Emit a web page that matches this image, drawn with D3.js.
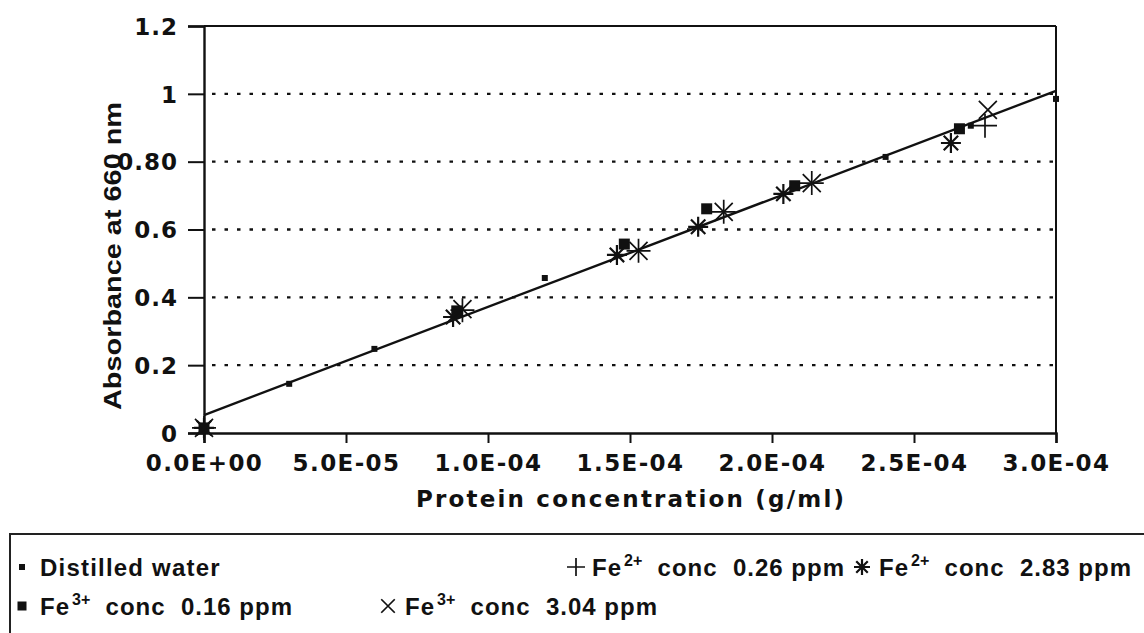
<!DOCTYPE html>
<html><head><meta charset="utf-8">
<script src="https://cdn.jsdelivr.net/npm/d3@7"></script>
<style>
html,body{margin:0;padding:0;background:#fff;}
svg{display:block;}
</style></head>
<body>
<svg id="c" width="1144" height="633"></svg>
<script>
// ---- data ----
const xTicks = [0, 5e-5, 1e-4, 1.5e-4, 2e-4, 2.5e-4, 3e-4];
const xTickLabels = ["0.0E+00","5.0E-05","1.0E-04","1.5E-04","2.0E-04","2.5E-04","3.0E-04"];
const yTicks = [0, 0.2, 0.4, 0.6, 0.8, 1, 1.2];
const yTickLabels = ["0","0.2","0.4","0.6","0.80","1","1.2"];

const distilledX = [0, 3.0e-5, 6.0e-5, 1.2e-4, 2.4e-4, 2.7e-4, 3.0e-4];
const distilledY = [0.02, 0.145, 0.248, 0.457, 0.814, 0.906, 0.985];

const fe3lowX = [0, 8.9e-5, 1.48e-4, 1.77e-4, 2.08e-4, 2.66e-4];
const fe3lowY = [0.015, 0.36, 0.557, 0.661, 0.729, 0.897];

const fe2highX = [0, 8.77e-5, 1.454e-4, 1.74e-4, 2.04e-4, 2.63e-4];
const fe2highY = [0.015, 0.342, 0.525, 0.608, 0.705, 0.855];

const fe2lowX = [0, 9.1e-5, 1.53e-4, 1.83e-4, 2.14e-4, 2.75e-4];
const fe2lowY = [0.015, 0.362, 0.537, 0.652, 0.737, 0.906];

const fe3highX = [0, 9.1e-5, 1.53e-4, 1.83e-4, 2.14e-4, 2.76e-4];
const fe3highY = [0.015, 0.365, 0.537, 0.652, 0.737, 0.953];

const fitX = [0, 3.0e-4];
const fitY = [0.053, 1.009];

const legendLabels = ["Distilled water", "Fe|2+|conc  0.26 ppm", "Fe|2+|conc  2.83 ppm",
                      "Fe|3+|conc  0.16 ppm", "Fe|3+|conc  3.04 ppm"];

// ---- drawing ----
const svg = d3.select("#c");
const L = 204, R = 1056, T = 26, B = 433;
const x = d3.scaleLinear().domain([0, 3e-4]).range([L, R]);
const y = d3.scaleLinear().domain([0, 1.2]).range([B, T]);
const ink = "#111";
const tickFont = "'DejaVu Sans', sans-serif";

// gridlines (dotted)
svg.append("g").selectAll("line").data(yTicks.filter(v => v > 0 && v < 1.2)).join("line")
  .attr("x1", L + 8).attr("x2", R).attr("y1", d => y(d)).attr("y2", d => y(d))
  .attr("stroke", ink).attr("stroke-width", 2.4).attr("stroke-dasharray", "3.5,9");

// frame top/right
svg.append("line").attr("x1", L).attr("x2", R).attr("y1", T).attr("y2", T).attr("stroke", ink).attr("stroke-width", 2);
svg.append("line").attr("x1", R).attr("x2", R).attr("y1", T).attr("y2", B).attr("stroke", ink).attr("stroke-width", 2);

// axes
const xAxis = d3.axisBottom(x).tickValues(xTicks).tickSize(10).tickFormat((d, i) => xTickLabels[i]);
const gx = svg.append("g").attr("transform", `translate(0,${B})`).call(xAxis);
gx.select(".domain").attr("stroke", ink).attr("stroke-width", 2.4);
gx.selectAll(".tick line").attr("stroke", ink).attr("stroke-width", 2);
gx.selectAll(".tick text").attr("font-family", tickFont).attr("font-weight", "bold")
  .attr("font-size", 23).attr("fill", ink).attr("y", 22).attr("dy", "0.71em")
  .attr("letter-spacing", 1.4);

const yAxis = d3.axisLeft(y).tickValues(yTicks).tickSize(16).tickFormat((d, i) => yTickLabels[i]);
const gy = svg.append("g").attr("transform", `translate(${L},0)`).call(yAxis);
gy.select(".domain").attr("stroke", ink).attr("stroke-width", 2.4);
gy.selectAll(".tick line").attr("stroke", ink).attr("stroke-width", 2);
gy.selectAll(".tick text").attr("font-family", tickFont).attr("font-weight", "bold")
  .attr("font-size", 23).attr("fill", ink).attr("x", -26).attr("dy", "0.36em")
  .attr("letter-spacing", 1);

// axis titles
svg.append("text").attr("x", (L + R) / 2).attr("y", 507).attr("text-anchor", "middle")
  .attr("font-family", tickFont).attr("font-weight", "bold").attr("font-size", 23).attr("fill", ink)
  .attr("textLength", 428).attr("lengthAdjust", "spacing")
  .text("Protein concentration (g/ml)");

svg.append("text").attr("transform", "translate(121,256) rotate(-90)").attr("text-anchor", "middle")
  .attr("font-family", "'Liberation Sans Narrow','Arial Narrow','Liberation Sans',sans-serif")
  .attr("font-stretch", "condensed")
  .attr("font-weight", "bold").attr("font-size", 24).attr("fill", ink)
  .attr("textLength", 308).attr("lengthAdjust", "spacingAndGlyphs")
  .text("Absorbance at 660 nm");

// fit line
const fitData = fitX.map((v, i) => [v, fitY[i]]);
svg.append("path").datum(fitData)
  .attr("d", d3.line().x(d => x(d[0])).y(d => y(d[1])))
  .attr("stroke", ink).attr("stroke-width", 2.4).attr("fill", "none");

// marker helpers
function drawMarker(g, type, cx, cy, s) {
  if (type === "dot" || type === "square") {
    g.append("rect").attr("x", cx - s / 2).attr("y", cy - s / 2).attr("width", s).attr("height", s).attr("fill", ink);
  } else if (type === "plus") {
    g.append("path").attr("d", `M${cx - s},${cy}H${cx + s}M${cx},${cy - s}V${cy + s}`)
      .attr("stroke", ink).attr("stroke-width", 1.7).attr("fill", "none");
  } else if (type === "cross") {
    const k = s * 0.75;
    g.append("path").attr("d", `M${cx - k},${cy - k}L${cx + k},${cy + k}M${cx - k},${cy + k}L${cx + k},${cy - k}`)
      .attr("stroke", ink).attr("stroke-width", 1.7).attr("fill", "none");
  } else if (type === "star") {
    const k = s * 0.72;
    g.append("path").attr("d", `M${cx - s},${cy}H${cx + s}M${cx},${cy - s}V${cy + s}M${cx - k},${cy - k}L${cx + k},${cy + k}M${cx - k},${cy + k}L${cx + k},${cy - k}`)
      .attr("stroke", ink).attr("stroke-width", 2.2).attr("fill", "none");
  }
}

const series = [
  {xs: distilledX, ys: distilledY, type: "dot", size: 6},
  {xs: fe3lowX, ys: fe3lowY, type: "square", size: 11},
  {xs: fe2highX, ys: fe2highY, type: "star", size: 10},
  {xs: fe2lowX, ys: fe2lowY, type: "plus", size: 12},
  {xs: fe3highX, ys: fe3highY, type: "cross", size: 12}
];
const gm = svg.append("g");
series.forEach(s => {
  s.xs.forEach((v, i) => drawMarker(gm, s.type, x(v), y(s.ys[i]), s.size));
});

// legend box
const lg = svg.append("g");
lg.append("path").attr("d", "M10,640V534H1144").attr("stroke", "#222").attr("stroke-width", 2).attr("fill", "none");

const legendItems = [
  {label: legendLabels[0], type: "dot", size: 6, mx: 22, tx: 40, row: 0},
  {label: legendLabels[1], type: "plus", size: 9, mx: 576, tx: 592, row: 0},
  {label: legendLabels[2], type: "star", size: 8, mx: 862, tx: 879, row: 0},
  {label: legendLabels[3], type: "square", size: 9, mx: 22, tx: 40, row: 1},
  {label: legendLabels[4], type: "cross", size: 9, mx: 388, tx: 405, row: 1}
];
const rowY = [576, 615];
legendItems.forEach(it => {
  const by = rowY[it.row];
  drawMarker(lg, it.type, it.mx, by - 9, it.size);
  const t = lg.append("text").attr("x", it.tx).attr("y", by)
    .attr("font-family", "'Liberation Sans',Arial,sans-serif").attr("font-weight", "bold")
    .attr("font-size", 24).attr("fill", ink).style("white-space", "pre");
  const parts = it.label.split("|");
  if (parts.length === 1) {
    t.text(parts[0]).attr("letter-spacing", 1.2);
  } else {
    t.append("tspan").text(parts[0]).attr("letter-spacing", 1);
    t.append("tspan").text(parts[1]).attr("font-size", 16).attr("dy", -10).attr("dx", 2);
    t.append("tspan").text("  " + parts[2]).attr("dy", 10).attr("letter-spacing", 1);
  }
});
</script>
</body></html>
